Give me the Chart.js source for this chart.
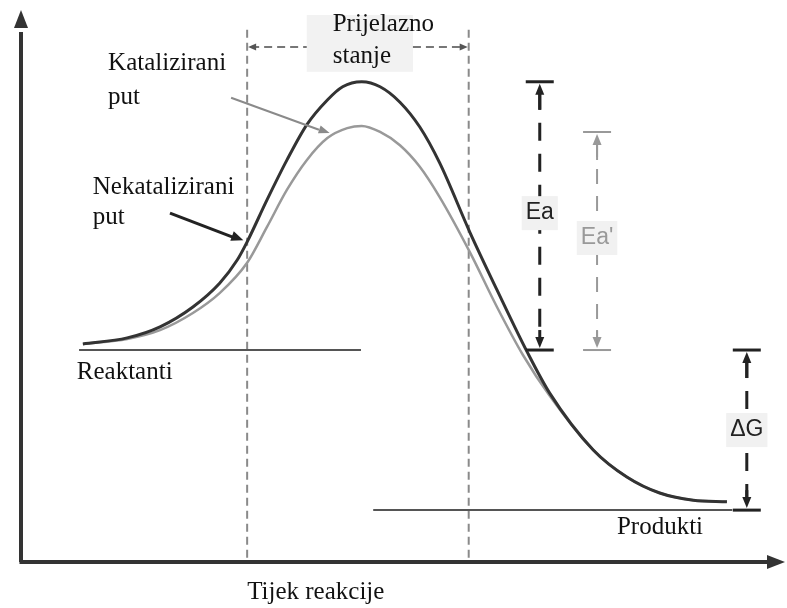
<!DOCTYPE html>
<html>
<head>
<meta charset="utf-8">
<script src="https://cdn.jsdelivr.net/npm/chart.js@4.4.1/dist/chart.umd.min.js"></script>
<style>
  html, body { margin: 0; padding: 0; background: #fff; }
  #wrap { width: 787px; height: 608px; position: relative; }
</style>
</head>
<body>
<div id="wrap"><canvas id="energyChart"></canvas></div>
<script>
// reakcijski put (x = tijek reakcije, y = energija)
const uncatX = [8.1, 13.9, 18.2, 22.5, 26.0, 28.3, 29.6, 32.2, 34.8, 37.4, 40.1, 42.1, 44.6, 47.0, 49.6, 52.2, 54.8, 58.8, 62.3, 66.2, 69.2, 74.9, 79.3, 83.6, 88.0, 92.4];
const uncatY = [39.5, 40.6, 42.6, 46.2, 50.5, 54.7, 58.0, 65.6, 72.8, 79.2, 83.7, 86.1, 87.0, 86.1, 83.3, 78.8, 72.3, 59.6, 49.3, 38.2, 30.6, 20.3, 15.4, 12.5, 11.2, 10.9];
const catX = [8.1, 13.9, 18.2, 22.5, 26.0, 29.6, 32.2, 34.8, 37.4, 40.1, 42.7, 44.6, 47.0, 49.6, 52.2, 54.8, 58.8, 62.3, 65.7, 69.2, 74.9, 79.3, 83.6, 88.0, 92.4];
const catY = [39.5, 40.4, 42.0, 45.1, 48.7, 54.2, 60.7, 67.4, 72.8, 76.8, 78.6, 79.0, 77.9, 75.5, 71.6, 66.1, 56.0, 46.2, 37.5, 30.1, 20.3, 15.4, 12.5, 11.2, 10.9];

// razine energije
const reactantEnergy = 38.4;
const productEnergy = 9.4;
const peakUncat = 87.0;
const peakCat = 77.9;
const reactantSpan = [7.6, 44.5];
const productSpan = [46.1, 93.1];
const transitionBounds = [29.6, 58.6];

const serif = '25px "Liberation Serif", "Times New Roman", serif';
const sans = '23px "Liberation Sans", Arial, sans-serif';

function arrowHead(ctx, x1, y1, x2, y2, len, half, color) {
    const a = Math.atan2(y2 - y1, x2 - x1);
    ctx.save();
    ctx.fillStyle = color;
    ctx.beginPath();
    ctx.moveTo(x2, y2);
    ctx.lineTo(x2 - len * Math.cos(a) + half * Math.sin(a), y2 - len * Math.sin(a) - half * Math.cos(a));
    ctx.lineTo(x2 - len * Math.cos(a) - half * Math.sin(a), y2 - len * Math.sin(a) + half * Math.cos(a));
    ctx.closePath();
    ctx.fill();
    ctx.restore();
}

function line(ctx, x1, y1, x2, y2, color, width, dash) {
    ctx.save();
    ctx.strokeStyle = color;
    ctx.lineWidth = width;
    ctx.setLineDash(dash || []);
    ctx.beginPath();
    ctx.moveTo(x1, y1);
    ctx.lineTo(x2, y2);
    ctx.stroke();
    ctx.restore();
}

function label(ctx, text, x, y, font, color, align) {
    ctx.save();
    ctx.font = font;
    ctx.fillStyle = color;
    ctx.textAlign = align || 'left';
    ctx.textBaseline = 'middle';
    ctx.fillText(text, x, y);
    ctx.restore();
}

function bracket(ctx, x, yTop, yBot, color, width, dash, text, textY) {
    line(ctx, x - 14, yTop, x + 14, yTop, color, width);
    line(ctx, x - 14, yBot, x + 14, yBot, color, width);
    line(ctx, x, yTop + 10, x, yBot - 10, color, width, dash);
    line(ctx, x, yTop + 10, x, yTop + 28, color, width);
    line(ctx, x, yBot - 10, x, yBot - 20, color, width);
    arrowHead(ctx, x, yTop + 20, x, yTop + 2, 11, 4.5, color);
    arrowHead(ctx, x, yBot - 20, x, yBot - 2, 11, 4.5, color);
    ctx.save();
    ctx.font = sans;
    const w = ctx.measureText(text).width + 8;
    ctx.fillStyle = '#f1f1f1';
    ctx.fillRect(x - w / 2, textY - 17, w, 34);
    ctx.restore();
    label(ctx, text, x, textY, sans, color, 'center');
}

const energyPlugin = {
    id: 'energyPlugin',
    beforeDatasetsDraw(chart) {
        const ctx = chart.ctx;
        const X = v => chart.scales.x.getPixelForValue(v);
        const Y = v => chart.scales.y.getPixelForValue(v);

        // prijelazno stanje
        transitionBounds.forEach(b => line(ctx, X(b), Y(96.4), X(b), Y(0), '#8a8a8a', 2, [8, 5]));
        ctx.save();
        ctx.fillStyle = '#f2f2f2';
        ctx.fillRect(X(37.4), Y(99.1), X(51.3) - X(37.4), Y(88.8) - Y(99.1));
        ctx.restore();
        line(ctx, X(transitionBounds[0]) + 4, Y(93.3), X(37.4), Y(93.3), '#777', 2, [8, 5]);
        line(ctx, X(51.3), Y(93.3), X(transitionBounds[1]) - 4, Y(93.3), '#777', 2, [8, 5]);
        arrowHead(ctx, X(transitionBounds[0]) + 12, Y(93.3), X(transitionBounds[0]) + 1, Y(93.3), 8, 3.5, '#555');
        arrowHead(ctx, X(transitionBounds[1]) - 12, Y(93.3), X(transitionBounds[1]) - 1, Y(93.3), 8, 3.5, '#555');

        // reaktanti i produkti
        line(ctx, X(reactantSpan[0]), Y(reactantEnergy), X(reactantSpan[1]), Y(reactantEnergy), '#555', 2);
        line(ctx, X(productSpan[0]), Y(productEnergy), X(productSpan[1]), Y(productEnergy), '#555', 2);
    },
    afterDatasetsDraw(chart) {
        const ctx = chart.ctx;
        const X = v => chart.scales.x.getPixelForValue(v);
        const Y = v => chart.scales.y.getPixelForValue(v);

        // osi
        line(ctx, X(0), Y(0), X(0), Y(96), '#333', 4);
        arrowHead(ctx, X(0), Y(90), X(0), Y(100), 18, 7, '#333');
        line(ctx, X(-0.2), Y(0), X(98), Y(0), '#333', 4);
        arrowHead(ctx, X(90), Y(0), X(100), Y(0), 18, 7, '#333');

        // Ea, Ea', ΔG
        bracket(ctx, X(67.9), Y(peakUncat), Y(reactantEnergy), '#222', 3, [18, 13], 'Ea', Y(63.2));
        bracket(ctx, X(75.4), Y(peakCat), Y(reactantEnergy), '#999', 2, [15, 12], "Ea'", Y(58.7));
        bracket(ctx, X(95.0), Y(reactantEnergy), Y(productEnergy), '#222', 3, [18, 13], '\u0394G', Y(23.9));

        // strelice
        line(ctx, X(27.5), Y(84.1), X(39.0), Y(78.3), '#8a8a8a', 2);
        arrowHead(ctx, X(27.5), Y(84.1), X(40.4), Y(77.7), 11, 4, '#8a8a8a');
        line(ctx, X(19.5), Y(63.2), X(27.8), Y(58.8), '#222', 3);
        arrowHead(ctx, X(19.5), Y(63.2), X(29.1), Y(58.3), 12, 5, '#222');

        // tekst
        label(ctx, 'Katalizirani', X(11.4), Y(90.4), serif, '#111');
        label(ctx, 'put', X(11.4), Y(84.2), serif, '#111');
        label(ctx, 'Nekatalizirani', X(9.4), Y(67.9), serif, '#111');
        label(ctx, 'put', X(9.4), Y(62.5), serif, '#111');
        label(ctx, 'Prijelazno', X(40.8), Y(97.3), serif, '#111');
        label(ctx, 'stanje', X(40.8), Y(91.5), serif, '#111');
        label(ctx, 'Reaktanti', X(7.3), Y(34.4), serif, '#111');
        label(ctx, 'Produkti', X(78.0), Y(6.3), serif, '#111');
        label(ctx, 'Tijek reakcije', X(29.6), Y(-5.6), serif, '#111');
    }
};

new Chart(document.getElementById('energyChart'), {
    type: 'line',
    data: {
        datasets: [{
            label: 'Nekatalizirani put',
            data: uncatX.map((x, i) => ({ x: x, y: uncatY[i] })),
            borderColor: '#333',
            borderWidth: 3,
            pointRadius: 0,
            cubicInterpolationMode: 'monotone',
            fill: false
        }, {
            label: 'Katalizirani put',
            data: catX.map((x, i) => ({ x: x, y: catY[i] })),
            borderColor: '#999',
            borderWidth: 2.5,
            pointRadius: 0,
            cubicInterpolationMode: 'monotone',
            fill: false
        }]
    },
    options: {
        responsive: true,
        maintainAspectRatio: false,
        animation: false,
        layout: { padding: { left: 21, right: 2, top: 10, bottom: 46 } },
        scales: {
            x: { type: 'linear', min: 0, max: 100, display: false },
            y: { min: 0, max: 100, display: false }
        },
        plugins: { legend: { display: false }, tooltip: { enabled: false } }
    },
    plugins: [energyPlugin]
});
</script>
</body>
</html>
